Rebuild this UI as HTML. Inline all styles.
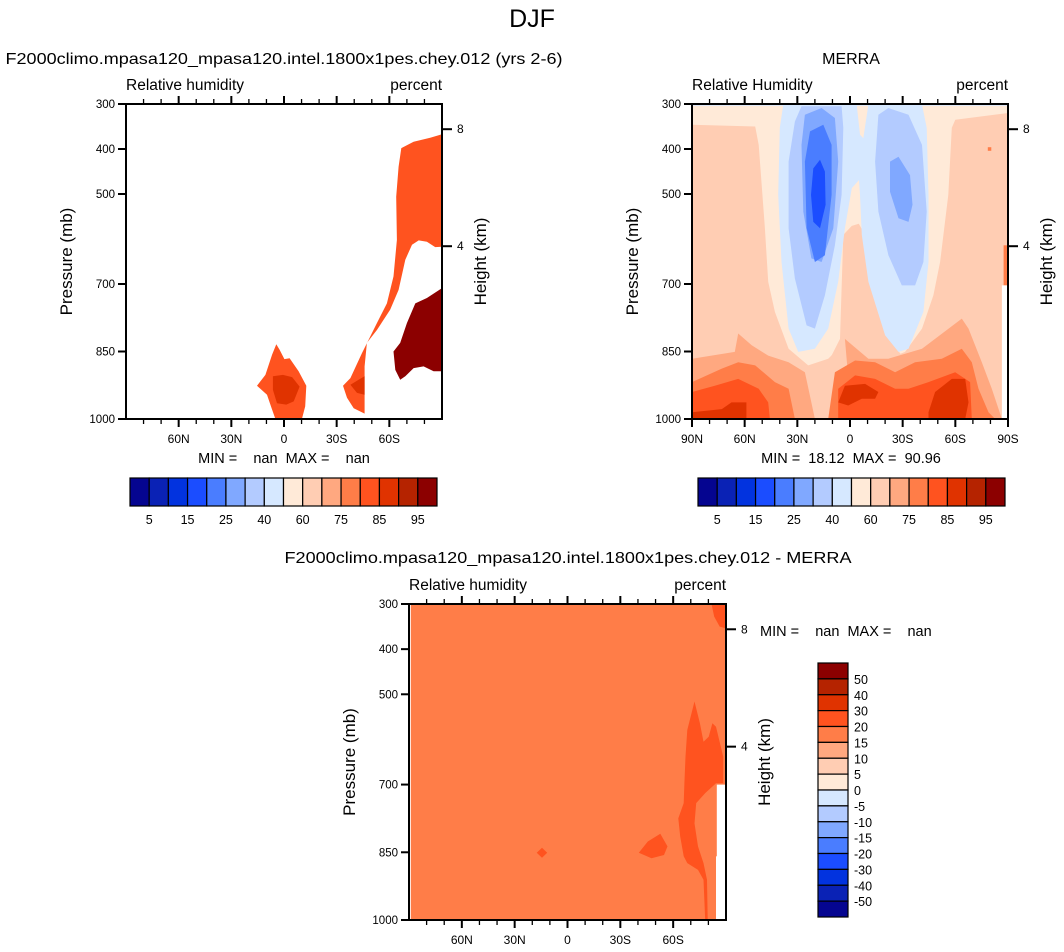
<!DOCTYPE html>
<html><head><meta charset="utf-8"><style>
html,body{margin:0;padding:0;background:#fff;width:1064px;height:952px;overflow:hidden}
svg{display:block;font-family:"Liberation Sans",Arial,sans-serif}
svg text{white-space:pre}
</style></head><body>
<svg id="fig" width="1064" height="952" viewBox="0 0 1064 952" xmlns="http://www.w3.org/2000/svg" xml:space="preserve">
<text x="532" y="27" font-size="25" text-anchor="middle">DJF</text>
</svg>
<script>
// ---------- data ----------
const palette = ['#050590','#0a22b5','#0233df','#1b4dff','#4a7dff','#80a8ff','#b3cbff','#d6e8ff','#ffead8','#ffcdb3','#ffa880','#ff7d48','#ff531f','#e03300','#b52300','#8c0000'];
const rhTickLabels = ['5','15','25','40','60','75','85','95'];
const diffTickLabels = ['50','40','30','20','15','10','5','0','-5','-10','-15','-20','-30','-40','-50'];
const pressureTicks = [300,400,500,700,850,1000];
const latTicks = [60,30,0,-30,-60];
const latTickLabels = ['60N','30N','0','30S','60S'];
const heightTicks = [{km:8,p:356},{km:4,p:616}];

// model panel contours: [colorIndex, [[lat,p],...]]
const modelFills = [
 [12, [[-66.8,398],[-73.8,384],[-83.3,375],[-90,367],[-90,617],[-86.1,618],[-81.4,606],[-76.7,603],[-72.9,613],[-69.1,646],[-65.3,713],[-60.5,757],[-53,802],[-47.2,831],[-45.9,883],[-45.9,988],[-39.7,976],[-35.9,953],[-33.6,926],[-37.8,909],[-44.4,854],[-52.9,787],[-58.6,743],[-62.4,683],[-64.3,602],[-63.9,506],[-65.3,439]]],
 [13, [[-37.8,924],[-42.5,913],[-45.9,905],[-45.9,946],[-41.6,942]]],
 [15, [[-62.4,850],[-66.2,831],[-70,787],[-74.8,743],[-81.4,731],[-90,709],[-90,894],[-85.2,894],[-79.5,883],[-73.8,887],[-69.1,905],[-66.2,913],[-63.4,891]]],
 [12, [[15.4,926],[10.6,902],[6.8,857],[4.4,834],[2.5,846],[-0.2,867],[-3.2,865],[-8.3,894],[-12.7,926],[-12.1,972],[-10.2,1000],[4.9,1000],[6.8,979],[9.7,946]]],
 [13, [[6.3,905],[0.6,902],[-4.6,907],[-8.9,928],[-5.5,961],[-1.3,968],[4,965],[6.3,935]]]
];

// MERRA panel contours
const merraFills = [
 [9, [[90,300],[-90,300],[-90,1000],[90,1000]]],
 [8, [[90,300],[-90,300],[-90,320],[-60,335],[-58,353],[-56,502],[-51.3,651],[-47.5,725],[-41,799],[-31.4,851],[-22,866],[-14.3,859],[-1,814],[12.4,866],[23.8,881],[35,844],[42.8,762],[46.6,695],[48.5,576],[52,391],[54,350],[90,346]]],
 [9, [[12.4,874],[5.7,822],[3.8,591],[-1,571],[-5,566],[-7.6,584],[-10.5,651],[-16.2,755],[-23.8,829],[-29.5,859],[-22,874]]],
 [7, [[38,301],[-3.8,301],[-5.7,368],[-7.6,376],[-10.5,301],[-41,301],[-43.7,353],[-44.7,502],[-44.7,651],[-41.8,762],[-33.3,844],[-27.6,851],[-20,814],[-10.5,695],[-6.7,591],[-5.7,502],[-5.1,469],[-1,487],[2.9,576],[6.7,695],[12.4,799],[20,844],[29.5,851],[35,799],[39,651],[40.9,502],[40,353]]],
 [6, [[27.6,305],[4.8,305],[3.8,353],[4.8,502],[8.6,614],[14.3,725],[20,799],[24.7,792],[31.4,688],[35,576],[35,428],[31.4,339]]],
 [6, [[-16.2,324],[-21.9,309],[-33.3,324],[-41,391],[-43.7,539],[-41.8,651],[-37.1,703],[-29.5,703],[-21.9,636],[-16.2,539],[-14.3,428]]],
 [5, [[25.7,324],[16.2,309],[8.6,331],[6.7,428],[9.5,576],[16.2,651],[22,643],[26.6,539],[27.6,391]]],
 [5, [[-22.8,428],[-27.6,417],[-34.2,458],[-35.6,524],[-33.3,562],[-27.6,554],[-22.8,495]]],
 [4, [[22.8,361],[15.2,346],[10.5,391],[10.5,502],[14.3,636],[20,651],[24.7,576],[25.7,428]]],
 [3, [[20.9,443],[17.1,424],[14.3,450],[13.9,524],[17.1,576],[20.9,562],[22.2,502]]],
 [10, [[90,866],[65.6,851],[63.7,810],[56,836],[46.6,859],[35,874],[25.7,896],[20,1000],[-1,1000],[2.9,822],[-10.5,866],[-21.9,866],[-41,844],[-63.7,777],[-67.5,799],[-75.1,874],[-80.8,933],[-86.5,1000],[90,1000]]],
 [11, [[90,918],[73,888],[63.7,874],[54,881],[42.8,918],[35,933],[31.4,1000],[12.4,1000],[8.6,896],[-2.9,870],[-14.3,874],[-25.7,896],[-37.1,874],[-52.3,866],[-63.7,844],[-69.4,874],[-73.2,933],[-78.9,985],[-82.7,1000],[90,1000]]],
 [12, [[90,940],[77,926],[63.7,911],[52,933],[46.6,963],[45.6,1000],[6.7,1000],[6.7,933],[-2.9,903],[-14.3,911],[-25.7,933],[-33.3,933],[-44.7,918],[-59.9,896],[-68.4,918],[-69.4,1000],[90,1000]]],
 [13, [[90,985],[73,978],[67.5,963],[59,963],[59,1000],[90,1000]]],
 [13, [[6.7,963],[2.9,926],[-8.6,922],[-16.2,940],[-14.3,955],[-6.7,955],[1,970]]],
 [13, [[-44.7,985],[-48.5,940],[-58,911],[-65.6,911],[-67.5,963],[-65.6,1000],[-44.7,1000]]],
 [11, [[-87.5,614],[-90,614],[-90,703],[-87.5,703]]],
 [11, [[-78.5,396],[-80.5,396],[-80.5,404],[-78.5,404]]]
];
const merraMissing = [[[-86.5,703],[-90,703],[-90,1000],[-86.5,1000]]];
const merraTopBand = [[90,300],[-90,300],[-90,304],[90,304]];

// difference panel contours
const diffFills = [
 [11, [[90,300],[-90,300],[-90,1000],[90,1000]]],
 [12, [[-81.9,302],[-90,302],[-90,354],[-86.4,350],[-83.3,328]]],
 [12, [[-72.1,516],[-68,579],[-67,638],[-66.4,697],[-66,741],[-62.9,775],[-64,815],[-66,859],[-68,874],[-74.1,889],[-77.2,911],[-78.2,1000],[-79.6,1000],[-79.2,911],[-77.2,874],[-74.1,837],[-72.1,786],[-73.1,741],[-78.2,719],[-84.3,697],[-88.4,697],[-88.4,638],[-84.3,572],[-82.3,564],[-80.2,594],[-77.2,605],[-75.2,564]]],
 [12, [[-40.5,851],[-45.6,826],[-52.7,809],[-56.8,837],[-54.8,856],[-47.7,863]]],
 [12, [[17.5,851],[14.5,840],[11.5,851],[14.5,862]]]
];
const diffMissing = [[[-84.8,700],[-90,700],[-90,1000],[-84.3,1000],[-84.3,860],[-84.8,858]]];
const diffLeftStrip = [[90,300],[89,300],[89,1000],[90,1000]];

// ---------- drawing ----------
const NS = 'http://www.w3.org/2000/svg';
const svg = document.getElementById('fig');
function mk(tag, attrs, parent, text) {
  const e = document.createElementNS(NS, tag);
  for (const k in attrs) e.setAttribute(k, attrs[k]);
  if (text !== undefined) e.textContent = text;
  (parent || svg).appendChild(e);
  return e;
}
function panel(x0, y0, W, H) {
  return {x0, y0, W, H,
    x: lat => x0 + (90 - lat) / 180 * W,
    y: p => y0 + (p - 300) / 700 * H};
}
function polyPts(pn, pts) { return pts.map(q => pn.x(q[0]).toFixed(1) + ',' + pn.y(q[1]).toFixed(1)).join(' '); }

function drawPanel(pn, name, fills, extras, showEdges) {
  const g = mk('g', {});
  
  
  const cp = mk('clipPath', {id: name + '-clip'}, g);
  mk('rect', {x: pn.x0, y: pn.y0, width: pn.W, height: pn.H}, cp);
  const cg = mk('g', {'clip-path': 'url(#' + name + '-clip)'}, g);
  
  
  fills.forEach((f, i) => {
    const pg = mk('polygon', {points: polyPts(pn, f[1]), fill: palette[f[0]]}, cg);
    
    
  });
  (extras || []).forEach(ex => {
    const pg = mk('polygon', {points: polyPts(pn, ex[1]), fill: ex[0]}, cg);
    
    
  });
  const fr = mk('rect', {x: pn.x0, y: pn.y0, width: pn.W, height: pn.H, fill: 'none', stroke: '#000', 'stroke-width': 2}, g);
  
  
  for (let lat = -80; lat <= 80; lat += 10) {
    const major = lat % 30 === 0;
    const len = major ? 8 : 5;
    const x = pn.x(lat);
    mk('line', {x1: x, x2: x, y1: pn.y0 + pn.H, y2: pn.y0 + pn.H + len, stroke: '#000', 'stroke-width': major ? 2 : 1.3}, g);
    mk('line', {x1: x, x2: x, y1: pn.y0, y2: pn.y0 - len, stroke: '#000', 'stroke-width': major ? 2 : 1.3}, g);
  }
  const labs = latTickLabels.slice(), vals = latTicks.slice();
  if (showEdges) { labs.unshift('90N'); vals.unshift(90); labs.push('90S'); vals.push(-90);
    [90,-90].forEach(l => mk('line', {x1: pn.x(l), x2: pn.x(l), y1: pn.y0 + pn.H, y2: pn.y0 + pn.H + 8, stroke: '#000', 'stroke-width': 2}, g)); }
  vals.forEach((v, i) => {
    const t = mk('text', {x: pn.x(v), y: pn.y0 + pn.H + 24, 'font-size': 12, 'text-anchor': 'middle'}, g, labs[i]);
    
    
  });
  pressureTicks.forEach(p => {
    const y = pn.y(p);
    mk('line', {x1: pn.x0 - 8, x2: pn.x0, y1: y, y2: y, stroke: '#000', 'stroke-width': 2}, g);
    const t = mk('text', {x: pn.x0 - 11, y: y + 4, 'font-size': 11.5, 'text-anchor': 'end'}, g, String(p));
    
    
  });
  heightTicks.forEach(h => {
    const y = pn.y(h.p);
    mk('line', {x1: pn.x0 + pn.W, x2: pn.x0 + pn.W + 10, y1: y, y2: y, stroke: '#000', 'stroke-width': 2}, g);
    const t = mk('text', {x: pn.x0 + pn.W + 15, y: y + 4, 'font-size': 12}, g, String(h.km));
    
    
  });
  const cy = pn.y0 + pn.H / 2;
  const yt = mk('text', {x: 0, y: 0, 'font-size': 17, 'text-anchor': 'middle', transform: 'translate(' + (pn.x0 - 54) + ',' + cy + ') rotate(-90)'}, g, 'Pressure (mb)');
  
  
  const ht = mk('text', {x: 0, y: 0, 'font-size': 17, 'text-anchor': 'middle', transform: 'translate(' + (pn.x0 + pn.W + 44) + ',' + cy + ') rotate(-90)'}, g, 'Height (km)');
  
  
  const lt = mk('text', {x: pn.x0, y: pn.y0 - 14, 'font-size': 15.5}, g, 'Relative ' + (name === 'merra' ? 'Humidity' : 'humidity'));
  
  
  const rt = mk('text', {x: pn.x0 + pn.W, y: pn.y0 - 14, 'font-size': 15.5, 'text-anchor': 'end'}, g, 'percent');
  
  
  return g;
}

function hColorbar(x0, y0, w, h, name) {
  const g = mk('g', {});
  
  
  const bw = w / palette.length;
  palette.forEach((c, i) => {
    const r = mk('rect', {x: x0 + i * bw, y: y0, width: bw, height: h, fill: c, stroke: '#000', 'stroke-width': 1.2}, g);
    
    
  });
  rhTickLabels.forEach((l, i) => {
    const t = mk('text', {x: x0 + (2 * i + 1) * bw, y: y0 + h + 18, 'font-size': 12.5, 'text-anchor': 'middle'}, g, l);
    
    
  });
}
function vColorbar(x0, y0, w, h, name) {
  const g = mk('g', {});
  
  
  const bh = h / palette.length;
  palette.slice().reverse().forEach((c, i) => {
    const r = mk('rect', {x: x0, y: y0 + i * bh, width: w, height: bh, fill: c, stroke: '#000', 'stroke-width': 1.2}, g);
    
    
  });
  diffTickLabels.forEach((l, i) => {
    const t = mk('text', {x: x0 + w + 6, y: y0 + (i + 1) * bh + 5, 'font-size': 12.5}, g, l);
    
    
  });
}
function txt(x, y, s, size, name, anchor, len) {
  const a = {x, y, 'font-size': size, 'text-anchor': anchor || 'middle'};
  if (len) { a.textLength = len; a.lengthAdjust = 'spacingAndGlyphs'; }
  const t = mk('text', a, svg, s);
  
  
}

const PL = panel(126, 104, 316, 315);
const PR = panel(692, 104, 316, 315);
const PB = panel(409, 604, 317, 316);

drawPanel(PL, 'model', modelFills, [], false);
drawPanel(PR, 'merra', merraFills, [['#ffffff', merraMissing[0], 'missing'], [palette[7], merraTopBand, 'top-band']], true);
drawPanel(PB, 'diff', diffFills, [['#ffffff', diffMissing[0], 'missing'], ['#ffffff', diffLeftStrip, 'left-strip']], false);

txt(284, 64, 'F2000climo.mpasa120_mpasa120.intel.1800x1pes.chey.012 (yrs 2-6)', 16, 'model-title', 'middle', 557);
txt(851, 64, 'MERRA', 16, 'merra-title');
txt(568, 563, 'F2000climo.mpasa120_mpasa120.intel.1800x1pes.chey.012 - MERRA', 16, 'diff-title', 'middle', 567);
txt(284, 463, 'MIN =    nan  MAX =    nan', 14.5, 'model-min-max', 'middle');
txt(851, 463, 'MIN =  18.12  MAX =  90.96', 14.5, 'merra-min-max', 'middle');
txt(760, 636, 'MIN =    nan  MAX =    nan', 14.5, 'diff-min-max', 'start');

hColorbar(130, 478, 307, 28, 'model-colorbar');
hColorbar(698, 478, 307, 28, 'merra-colorbar');
vColorbar(818, 663, 30, 254, 'diff-colorbar');
</script>
</body></html>
